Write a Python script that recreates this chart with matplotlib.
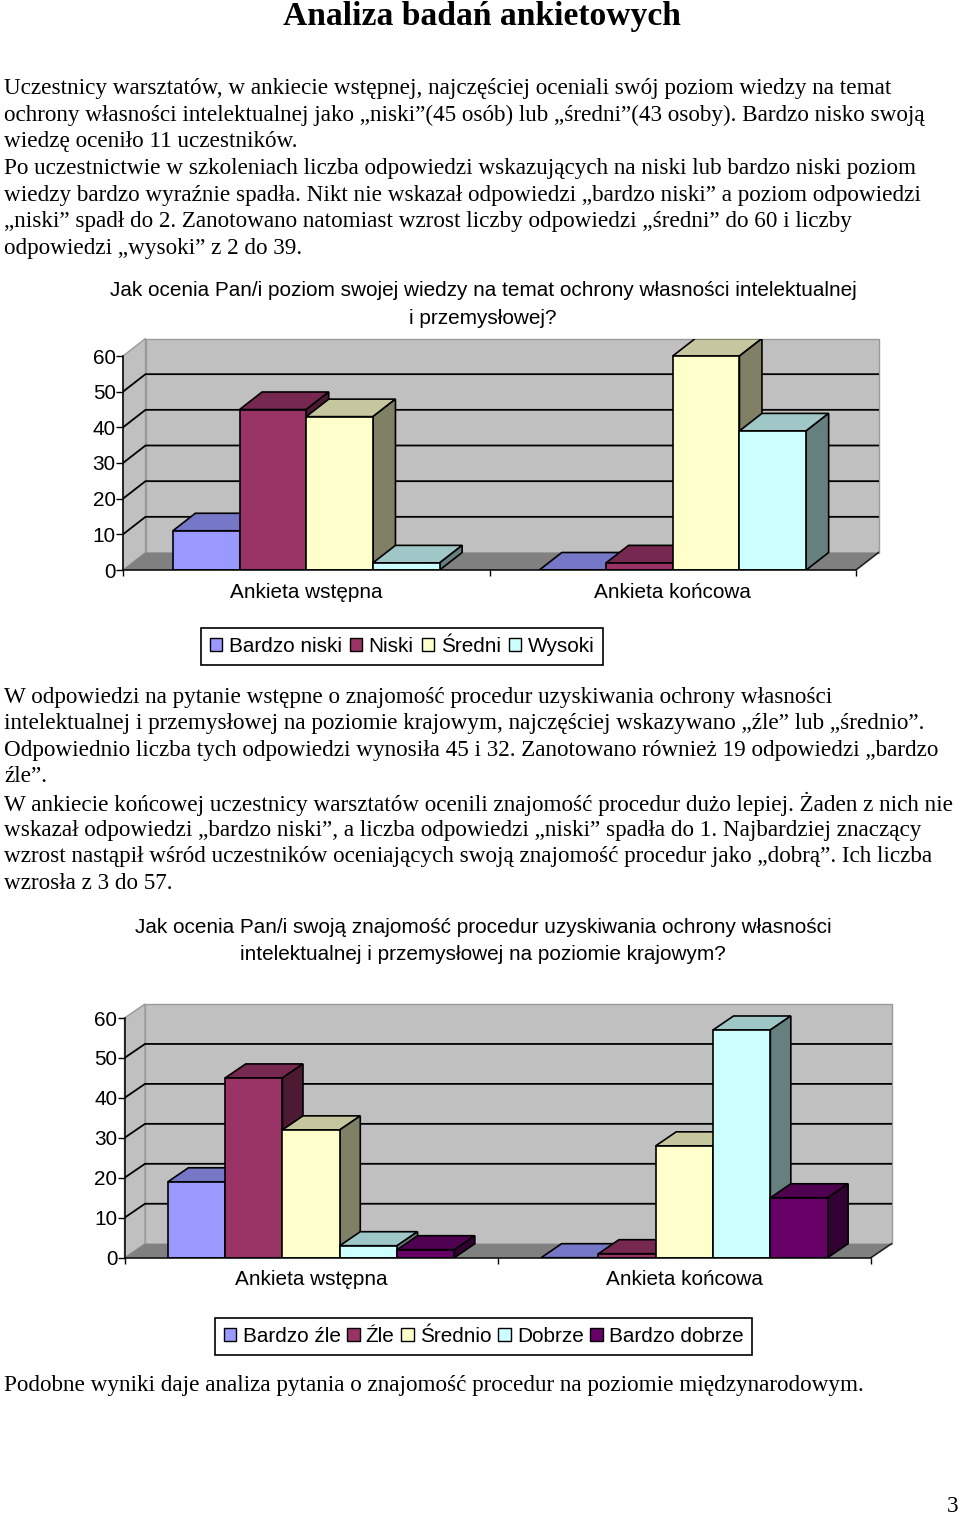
import matplotlib
matplotlib.use('Agg')
import matplotlib.pyplot as plt
from matplotlib.patches import Patch
import matplotlib.colors as mcolors

W, H = 960, 1515
SERIF = 'Liberation Serif'
SANS = 'Liberation Sans'
BODY = 16.65
LABEL = 14.95

page_title = 'Analiza badań ankietowych'
para1 = [
    'Uczestnicy warsztatów, w ankiecie wstępnej, najczęściej oceniali swój poziom wiedzy na temat',
    'ochrony własności intelektualnej jako „niski”(45 osób) lub „średni”(43 osoby). Bardzo nisko swoją',
    'wiedzę oceniło 11 uczestników.',
    'Po uczestnictwie w szkoleniach liczba odpowiedzi wskazujących na niski lub bardzo niski poziom',
    'wiedzy bardzo wyraźnie spadła. Nikt nie wskazał odpowiedzi „bardzo niski” a poziom odpowiedzi',
    '„niski” spadł do 2. Zanotowano natomiast wzrost liczby odpowiedzi „średni” do 60 i liczby',
    'odpowiedzi „wysoki” z 2 do 39.',
]
para2 = [
    'W odpowiedzi na pytanie wstępne o znajomość procedur uzyskiwania ochrony własności',
    'intelektualnej i przemysłowej na poziomie krajowym, najczęściej wskazywano „źle” lub „średnio”.',
    'Odpowiednio liczba tych odpowiedzi wynosiła 45 i 32. Zanotowano również 19 odpowiedzi „bardzo',
    'źle”.',
    'W ankiecie końcowej uczestnicy warsztatów ocenili znajomość procedur dużo lepiej. Żaden z nich nie',
    'wskazał odpowiedzi „bardzo niski”, a liczba odpowiedzi „niski” spadła do 1. Najbardziej znaczący',
    'wzrost nastąpił wśród uczestników oceniających swoją znajomość procedur jako „dobrą”. Ich liczba',
    'wzrosła z 3 do 57.',
]
para3 = ['Podobne wyniki daje analiza pytania o znajomość procedur na poziomie międzynarodowym.']

title1 = ['Jak ocenia Pan/i poziom swojej wiedzy na temat ochrony własności intelektualnej',
          'i przemysłowej?']
title2 = ['Jak ocenia Pan/i swoją znajomość procedur uzyskiwania ochrony własności',
          'intelektualnej i przemysłowej na poziomie krajowym?']

groups = ['Ankieta wstępna', 'Ankieta końcowa']
yticks = [0, 10, 20, 30, 40, 50, 60]

names1 = ['Bardzo niski', 'Niski', 'Średni', 'Wysoki']
first1 = [11, 45, 43, 2]
last1 = [0, 2, 60, 39]
colors1 = ['#9999FF', '#993366', '#FFFFCC', '#CCFFFF']

names2 = ['Bardzo źle', 'Źle', 'Średnio', 'Dobrze', 'Bardzo dobrze']
first2 = [19, 45, 32, 3, 2]
last2 = [0, 1, 28, 57, 15]
colors2 = ['#9999FF', '#993366', '#FFFFCC', '#CCFFFF', '#660066']


def shade(color, k):
    r, g, b = mcolors.to_rgb(color)
    return (r * k, g * k, b * k)


def text_px(fig, x, y, s, **kw):
    fig.text(x / W, 1 - y / H, s, va='center', **kw)


def chart(fig, x0, x1, y0, y60, depth_x, depth_y, bar_w, data, names, colors, legend_box, col_gap):
    # x0..x1 and y0..y60 are the front plane in pixels, the axes also hold the depth
    cat_px = (x1 - x0) / 2
    unit_px = (y0 - y60) / 60
    ax = fig.add_axes([x0 / W, 1 - y0 / H, (x1 + depth_x - x0) / W, (y0 - y60 + depth_y) / H])
    ax.patch.set_alpha(0)
    dx = depth_x / cat_px
    dy = depth_y / unit_px
    ax.set_xlim(-0.5, 1.5 + dx)
    ax.set_ylim(0, 60 + dy)

    # walls and floor
    ax.fill([-0.5 + dx, 1.5 + dx, 1.5 + dx, -0.5 + dx], [dy, dy, 60 + dy, 60 + dy],
            fc='#C0C0C0', ec='#9A9A9A', lw=1, zorder=1, clip_on=False)
    ax.fill([-0.5, -0.5 + dx, -0.5 + dx, -0.5], [0, dy, 60 + dy, 60],
            fc='#C0C0C0', ec='#9A9A9A', lw=1, zorder=1, clip_on=False)
    ax.fill([-0.5, 1.5, 1.5 + dx, -0.5 + dx], [0, 0, dy, dy], color='#808080', lw=0, zorder=1)
    for v in yticks[1:-1]:
        ax.plot([-0.5, -0.5 + dx, 1.5 + dx], [v, v + dy, v + dy], color='black', lw=1.3, zorder=2,
                solid_joinstyle='miter')
    ax.plot([1.5, 1.5 + dx], [0, dy], color='#222222', lw=1.2, zorder=2)

    # bars, painted left to right so later ones hide earlier side faces
    z = 3
    n = len(names)
    for g, values in enumerate(data):
        for i, v in enumerate(values):
            left = g + (i - n / 2) * bar_w
            right = left + bar_w
            ax.fill([left, right, right + dx, left + dx], [v, v, v + dy, v + dy],
                    fc=shade(colors[i], 0.78), ec='black', lw=1.2, zorder=z, joinstyle='miter')
            ax.fill([right, right + dx, right + dx, right], [0, dy, v + dy, v],
                    fc=shade(colors[i], 0.5), ec='black', lw=1.2, zorder=z, joinstyle='miter')
            ax.bar(left, v, bar_w, align='edge', color=colors[i], ec='black', lw=1.2, zorder=z + 0.5)
            z += 1

    for side in ['top', 'right']:
        ax.spines[side].set_visible(False)
    ax.spines['left'].set_bounds(0, 60)
    ax.spines['bottom'].set_bounds(-0.5, 1.5)
    for side in ['left', 'bottom']:
        ax.spines[side].set_linewidth(1.1)
        ax.spines[side].set_zorder(50)
    ax.set_yticks(yticks)
    ax.tick_params(axis='y', length=5, width=1, pad=0.3, labelsize=LABEL)
    ax.set_xticks([-0.5, 0.5, 1.5])
    ax.set_xticklabels([])
    ax.tick_params(axis='x', which='major', length=4, width=1)
    ax.set_xticks([0, 1], minor=True)
    ax.set_xticklabels(groups, minor=True, fontsize=LABEL)
    ax.tick_params(axis='x', which='minor', length=0, pad=9)

    handles = [Patch(fc=c, ec='black', lw=1) for c in colors]
    lx, ly, lw_, lh = legend_box
    leg = fig.legend(handles, names, ncol=n, loc='center',
                     bbox_to_anchor=((lx + lw_ / 2) / W, 1 - (ly + lh / 2) / H),
                     fontsize=LABEL, fancybox=False, edgecolor='black', framealpha=1,
                     handlelength=0.62, handleheight=0.62, handletextpad=0.3,
                     columnspacing=col_gap, borderpad=0.42, borderaxespad=0)
    leg.get_frame().set_linewidth(1.2)
    return ax


plt.rcParams['font.family'] = [SANS, 'DejaVu Sans']
fig = plt.figure(figsize=(W / 100, H / 100), dpi=100, facecolor='white')

text_px(fig, 482, 16, page_title, family=SERIF, fontsize=24.2, fontweight='bold', ha='center')

for i, line in enumerate(para1):
    text_px(fig, 4, 88.8 + i * 26.6, line, family=SERIF, fontsize=BODY)
for i, line in enumerate(para2):
    text_px(fig, 4, 697 + i * 26.65, line, family=SERIF, fontsize=BODY)
text_px(fig, 4, 1385, para3[0], family=SERIF, fontsize=BODY)
text_px(fig, 953, 1507, '3', family=SERIF, fontsize=BODY, ha='center')

for i, line in enumerate(title1):
    text_px(fig, 483, 290.5 + i * 27.5, line, family=SANS, fontsize=LABEL, ha='center')
for i, line in enumerate(title2):
    text_px(fig, 483, 927.5 + i * 27, line, family=SANS, fontsize=LABEL, ha='center')

chart(fig, 123, 856, 570, 356, 22.5, 17.5, 0.182, [first1, last1], names1, colors1, (200, 628, 404, 37), 0.38)
chart(fig, 124.5, 871, 1257.7, 1018, 20.5, 14, 0.1535, [first2, last2], names2, colors2, (216, 1318, 535, 37), 0.3)

fig.savefig('out.png', dpi=100)
